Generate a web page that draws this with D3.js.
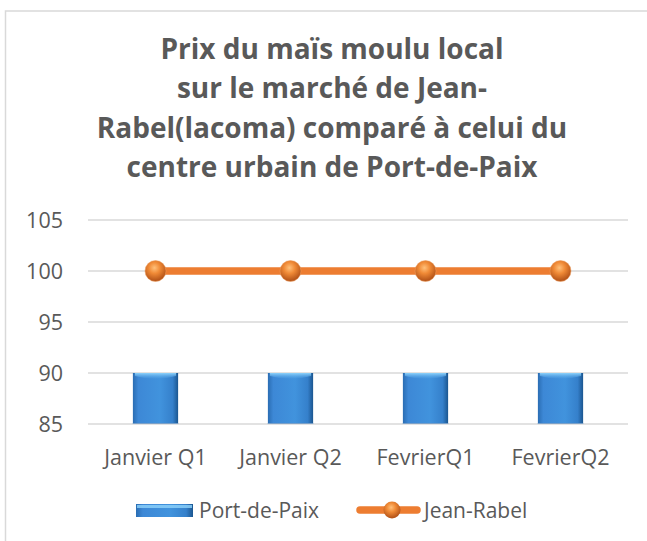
<!DOCTYPE html>
<html>
<head>
<meta charset="utf-8">
<script src="https://cdn.jsdelivr.net/npm/d3@7"></script>
<style>
  html, body { margin: 0; padding: 0; background: #fff; }
  #chart text { font-family: "Open Sans", "DejaVu Sans", sans-serif; fill: #595959; }
</style>
</head>
<body>
<div id="chart"></div>
<script>
// data
const categories = ["Janvier Q1", "Janvier Q2", "FevrierQ1", "FevrierQ2"];
const portDePaix = [90, 90, 90, 90];
const jeanRabel = [100, 100, 100, 100];
const yTicks = [85, 90, 95, 100, 105];
const titleLines = [
  "Prix du maïs moulu local",
  "sur le marché de Jean-",
  "Rabel(lacoma) comparé à celui du",
  "centre urbain de Port-de-Paix"
];
const seriesNames = ["Port-de-Paix", "Jean-Rabel"];

const W = 647, H = 541;
const margin = { top: 220, right: 19, bottom: 117, left: 88 };
const width = W - margin.left - margin.right;
const height = H - margin.top - margin.bottom;

const svg = d3.select("#chart").append("svg")
  .attr("width", W)
  .attr("height", H);

const defs = svg.append("defs");

// bevel-ish blue for the bars
const barGrad = defs.append("linearGradient").attr("id", "barGrad")
  .attr("x1", 0).attr("x2", 1).attr("y1", 0).attr("y2", 0);
barGrad.append("stop").attr("offset", "0%").attr("stop-color", "#2a6db3");
barGrad.append("stop").attr("offset", "12%").attr("stop-color", "#3d88d6");
barGrad.append("stop").attr("offset", "60%").attr("stop-color", "#4193dd");
barGrad.append("stop").attr("offset", "88%").attr("stop-color", "#3580cb");
barGrad.append("stop").attr("offset", "100%").attr("stop-color", "#1b5690");

const topGrad = defs.append("linearGradient").attr("id", "topGrad")
  .attr("x1", 0).attr("x2", 0).attr("y1", 0).attr("y2", 1);
topGrad.append("stop").attr("offset", "0%").attr("stop-color", "#8fd3fb").attr("stop-opacity", 1);
topGrad.append("stop").attr("offset", "100%").attr("stop-color", "#5fb0ee").attr("stop-opacity", 0);

const dotGrad = defs.append("radialGradient").attr("id", "dotGrad")
  .attr("cx", "45%").attr("cy", "35%").attr("r", "60%");
dotGrad.append("stop").attr("offset", "0%").attr("stop-color", "#ffc07a");
dotGrad.append("stop").attr("offset", "45%").attr("stop-color", "#f08a36");
dotGrad.append("stop").attr("offset", "100%").attr("stop-color", "#b7561a");

// chart area border (runs off the right and bottom)
svg.append("rect")
  .attr("x", 5.5).attr("y", 11)
  .attr("width", 700).attr("height", 600)
  .attr("fill", "#fff")
  .attr("stroke", "#d9d9d9")
  .attr("stroke-width", 1.5);

// title
svg.append("g")
  .attr("font-weight", "bold")
  .attr("font-size", 28)
  .attr("text-anchor", "middle")
  .selectAll("text")
  .data(titleLines)
  .enter().append("text")
    .attr("x", 332)
    .attr("y", (d, i) => 59 + i * 39.3)
    .text(d => d);

const g = svg.append("g")
  .attr("transform", "translate(" + margin.left + "," + margin.top + ")");

const x = d3.scaleBand()
  .domain(categories)
  .range([0, width]);

const y = d3.scaleLinear()
  .domain([85, 105])
  .range([height, 0]);

// gridlines
g.append("g")
  .selectAll("line")
  .data(yTicks)
  .enter().append("line")
    .attr("x1", 0).attr("x2", width)
    .attr("y1", d => y(d)).attr("y2", d => y(d))
    .attr("stroke", "#d9d9d9")
    .attr("stroke-width", 1.5);

// y labels
g.append("g")
  .attr("font-size", 21.5)
  .attr("text-anchor", "end")
  .selectAll("text")
  .data(yTicks)
  .enter().append("text")
    .attr("x", -25)
    .attr("y", d => y(d))
    .attr("dy", "0.36em")
    .text(d => d);

// x labels
g.append("g")
  .attr("font-size", 21.5)
  .attr("text-anchor", "middle")
  .selectAll("text")
  .data(categories)
  .enter().append("text")
    .attr("x", d => x(d) + x.bandwidth() / 2)
    .attr("y", height + 41)
    .text(d => d);

// bars
const barW = x.bandwidth() * 0.335;
const bars = g.append("g").selectAll("g")
  .data(portDePaix)
  .enter().append("g")
    .attr("transform", (d, i) => "translate(" + (x(categories[i]) + x.bandwidth() / 2 - barW / 2) + ",0)");

bars.append("rect")
  .attr("y", d => y(d))
  .attr("width", barW)
  .attr("height", d => y(85) - y(d))
  .attr("fill", "url(#barGrad)");

bars.append("path")
  .attr("d", d => {
    const t = y(d), h = 9;
    return "M2," + t + " L" + (barW - 2) + "," + t +
      " L" + (barW - 2) + "," + (t + 3) +
      " Q" + (barW / 2) + "," + (t + h) + " 2," + (t + 3) + " Z";
  })
  .attr("fill", "url(#topGrad)");

bars.append("line")
  .attr("x1", 0).attr("x2", barW)
  .attr("y1", y(85) - 0.5).attr("y2", y(85) - 0.5)
  .attr("stroke", "#7aa0c8")
  .attr("stroke-width", 1);

// line series
const line = d3.line()
  .x((d, i) => x(categories[i]) + x.bandwidth() / 2)
  .y(d => y(d));

g.append("path")
  .datum(jeanRabel)
  .attr("d", line)
  .attr("fill", "none")
  .attr("stroke", "#ed7d31")
  .attr("stroke-width", 7.5);

g.append("g").selectAll("circle")
  .data(jeanRabel)
  .enter().append("circle")
    .attr("cx", (d, i) => x(categories[i]) + x.bandwidth() / 2)
    .attr("cy", d => y(d))
    .attr("r", 10.5)
    .attr("fill", "url(#dotGrad)")
    .attr("stroke", "#f0a060")
    .attr("stroke-opacity", 0.5)
    .attr("stroke-width", 1);

// legend
const legend = svg.append("g").attr("font-size", 21);

legend.append("rect")
  .attr("x", 136).attr("y", 504)
  .attr("width", 57).attr("height", 13)
  .attr("fill", "url(#barGrad)");
legend.append("rect")
  .attr("x", 137).attr("y", 505)
  .attr("width", 55).attr("height", 3)
  .attr("fill", "#8fd3fb")
  .attr("opacity", 0.8);
legend.append("text")
  .attr("x", 199).attr("y", 510).attr("dy", "0.36em")
  .text(seriesNames[0]);

legend.append("line")
  .attr("x1", 360).attr("x2", 417)
  .attr("y1", 510).attr("y2", 510)
  .attr("stroke", "#ed7d31")
  .attr("stroke-width", 7.5)
  .attr("stroke-linecap", "round");
legend.append("circle")
  .attr("cx", 392).attr("cy", 510).attr("r", 8.5)
  .attr("fill", "url(#dotGrad)");
legend.append("text")
  .attr("x", 424).attr("y", 510).attr("dy", "0.36em")
  .text(seriesNames[1]);
</script>
</body>
</html>
